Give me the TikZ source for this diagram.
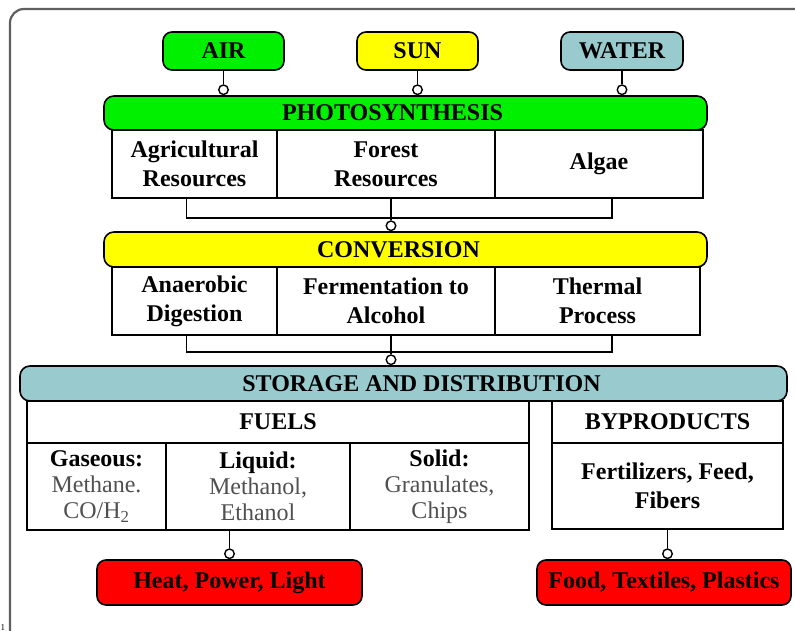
\documentclass[tikz,border=0pt]{standalone}
\usepackage{fontspec}
\setmainfont{Liberation Serif}
\usetikzlibrary{positioning}

\definecolor{airgreen}{RGB}{0,240,0}
\definecolor{sunyellow}{RGB}{255,255,0}
\definecolor{waterblue}{RGB}{153,202,206}
\definecolor{outred}{RGB}{255,0,0}
\definecolor{framegray}{RGB}{95,95,95}
\definecolor{textgray}{RGB}{80,80,80}

\newcommand{\bigfont}{\fontsize{24}{29}\selectfont}
\newcommand{\fuelfont}{\fontsize{24}{26}\selectfont}
\newcommand{\fueltext}[1]{\textcolor{textgray}{\mdseries #1}}

\tikzset{
  topbox/.style={draw=black, line width=1.6pt, rounded corners=9pt, minimum height=38pt, inner sep=0pt, font=\bigfont\bfseries},
  bar/.style={draw=black, line width=1.6pt, rounded corners=10pt, inner sep=0pt},
  cell/.style={draw=black, line width=1.6pt, inner sep=0pt, align=center, font=\bigfont\bfseries},
  fuelcell/.style={cell, font=\fuelfont\bfseries},
  dot/.style={circle, draw=black, fill=white, line width=1.4pt, inner sep=0pt, minimum size=9.5pt, anchor=south},
  link/.style={draw=black, line width=1.8pt},
}

\begin{document}
\begin{tikzpicture}[x=1pt, y=-1pt]
    \clip (0,0) rectangle (795,631);

    % outer frame
    \draw[framegray, line width=2.2pt, rounded corners=14pt] (10,9) rectangle (810,645);
    \node[anchor=south west, inner sep=0.5pt, font=\fontsize{9}{9}\selectfont] (pageno) at (0,631) {1};

    % sources
    \node[topbox, fill=airgreen, minimum width=121pt] (air) at (223.5,51) {AIR};
    \node[topbox, fill=sunyellow, minimum width=121pt] (sun) at (417.5,51) {SUN};
    \node[topbox, fill=waterblue, minimum width=122pt] (water) at (622,51) {WATER};

    % photosynthesis
    \node[bar, fill=airgreen, minimum width=603pt, minimum height=34pt,
          label={[xshift=-13pt, font=\bigfont\bfseries]center:PHOTOSYNTHESIS}] (photo) at (405.5,113) {};
    \node[cell, minimum width=165pt, minimum height=68pt] (agri) at (194.5,164) {Agricultural\\Resources};
    \node[cell, minimum width=218pt, minimum height=68pt] (forest) at (386,164) {Forest\\Resources};
    \node[cell, minimum width=208pt, minimum height=68pt] (algae) at (599,164) {Algae};

    % conversion
    \node[bar, fill=sunyellow, minimum width=603pt, minimum height=35pt,
          label={[xshift=-7pt, font=\bigfont\bfseries]center:CONVERSION}] (conv) at (405.5,249.5) {};
    \node[cell, minimum width=165pt, minimum height=68pt] (anaer) at (194.5,301) {Anaerobic\\Digestion};
    \node[cell, minimum width=218pt, minimum height=68pt] (ferm) at (386,301) {Fermentation to\\Alcohol};
    \node[cell, minimum width=205pt, minimum height=68pt] (therm) at (597.5,301) {Thermal\\Process};

    % storage and distribution
    \node[bar, fill=waterblue, minimum width=767pt, minimum height=35pt,
          label={[xshift=18pt, font=\bigfont\bfseries]center:STORAGE AND DISTRIBUTION}] (store) at (403.5,383.5) {};
    \node[cell, minimum width=502pt, minimum height=42pt] (fuels) at (278,422) {FUELS};
    \node[fuelcell, minimum width=139pt, minimum height=87pt] (gas) at (96.5,486.5)
        {Gaseous:\\\fueltext{Methane.}\\\fueltext{CO/H\textsubscript{2}}};
    \node[fuelcell, minimum width=184pt, minimum height=87pt] (liq) at (258,486.5)
        {Liquid:\\\fueltext{Methanol,}\\\fueltext{Ethanol}};
    \node[fuelcell, minimum width=179pt, minimum height=87pt] (solid) at (439.5,486.5)
        {Solid:\\\fueltext{Granulates,}\\\fueltext{Chips}};
    \node[cell, minimum width=231pt, minimum height=42pt] (byprod) at (667.5,422) {BYPRODUCTS};
    \node[cell, minimum width=231pt, minimum height=86pt] (fert) at (667.5,486) {Fertilizers, Feed,\\Fibers};

    % end uses
    \node[topbox, fill=outred, minimum width=265pt, minimum height=45pt] (heat) at (229.5,582.5) {Heat, Power, Light};
    \node[topbox, fill=outred, minimum width=254pt, minimum height=45pt] (food) at (664,582.5) {Food, Textiles, Plastics};

    % links from sources
    \node[dot] (d1) at (air.south |- photo.north) {};
    \node[dot] (d2) at (sun.south |- photo.north) {};
    \node[dot] (d3) at (water.south |- photo.north) {};
    \draw[link] (air) -- (d1);
    \draw[link] (sun) -- (d2);
    \draw[link] (water) -- (d3);

    % bracket under photosynthesis
    \coordinate (pjoin) at (391,218);
    \draw[link] ([xshift=-8pt]agri.south) |- (pjoin) -| ([xshift=13pt]algae.south);
    \node[dot] (d4) at (pjoin |- conv.north) {};
    \draw[link] (forest.south -| pjoin) -- (d4);

    % bracket under conversion
    \coordinate (cjoin) at (391,352);
    \draw[link] ([xshift=-8pt]anaer.south) |- (cjoin) -| ([xshift=14.5pt]therm.south);
    \node[dot] (d5) at (cjoin |- store.north) {};
    \draw[link] (ferm.south -| cjoin) -- (d5);

    % links to end uses
    \node[dot] (d6) at (heat.north) {};
    \draw[link] (heat.north |- liq.south) -- (d6);
    \node[dot] (d7) at (food.north -| fert.south) {};
    \draw[link] (fert) -- (d7);

\end{tikzpicture}
\end{document}
